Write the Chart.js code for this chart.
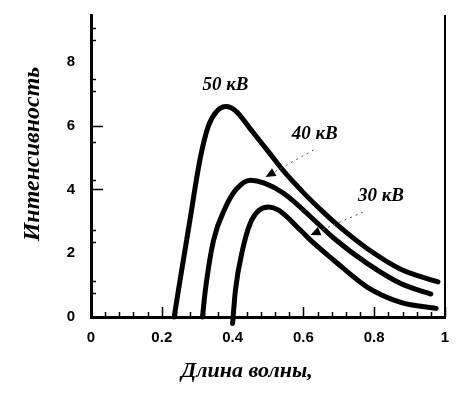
<!DOCTYPE html>
<html>
<head>
  <meta charset="UTF-8">
  <title>Интенсивность</title>
  <script src="https://cdn.jsdelivr.net/npm/chart.js"></script>
  <style>
    html, body { margin: 0; padding: 0; background: #fff; }
    #wrap { width: 459px; height: 393px; }
  </style>
</head>
<body>
  <div id="wrap"><canvas id="chart" width="459" height="393"></canvas></div>

  <script>
    // curves: wavelength -> intensity
    const wave50 = [0.235, 0.247, 0.278, 0.309, 0.332, 0.355, 0.382, 0.41, 0.45, 0.50, 0.55, 0.60, 0.65, 0.70, 0.78, 0.875, 0.98];
    const int50  = [0,     0.84,  2.94,  5.0,   6.0,   6.45,  6.6,   6.45,  5.9,  5.2,  4.5,  3.9,  3.35, 2.85, 2.15, 1.5,   1.1];

    const wave40 = [0.315, 0.323, 0.346, 0.38, 0.41, 0.45, 0.49, 0.544, 0.64, 0.686, 0.78, 0.875, 0.96];
    const int40  = [0,     0.84,  2.4,   3.44, 4.0,  4.29, 4.2,  3.88,  2.94, 2.47,  1.68, 1.05,  0.72];

    const wave30 = [0.40, 0.408, 0.428, 0.45, 0.475, 0.502, 0.53, 0.592, 0.62, 0.686, 0.78, 0.875, 0.975];
    const int30  = [-0.2, 0.84,  2.1,   2.94, 3.35,  3.45,  3.35, 2.72,  2.41, 1.78,  0.94, 0.46,  0.27];

    const yLabels = [0, 2, 4, 6, 8];
    const yLongTicks = [4, 6];
    const yShortTicks = [0.75, 1.12, 2.35, 2.72, 4.29, 5.5, 7.1, 7.46, 8.68, 9.06];

    // labels with their dotted pointers (data coords)
    const notes = [
      { text: '50 кВ', x: 0.38, y: 7.27 },
      { text: '40 кВ', x: 0.632, y: 5.74, from: [0.629, 5.24], to: [0.493, 4.39] },
      { text: '30 кВ', x: 0.819, y: 3.79, from: [0.768, 3.29], to: [0.62, 2.57] }
    ];

    const pts = (xs, ys) => xs.map((x, i) => ({ x: x, y: ys[i] }));
    const curve = (label, xs, ys) => ({
      label: label,
      data: pts(xs, ys),
      borderColor: '#000',
      borderWidth: 5,
      borderCapStyle: 'round',
      pointRadius: 0,
      cubicInterpolationMode: 'monotone',
      fill: false,
      clip: false
    });

    const tickFont = { family: 'Liberation Sans', size: 15, weight: 'bold' };
    const titleFont = 'italic bold 22px "Liberation Serif"';
    const noPad = s => { s.paddingLeft = 0; s.paddingRight = 0; s.paddingTop = 0; s.paddingBottom = 0; };

    const decor = {
      id: 'decor',
      afterDraw(chart) {
        const c = chart.ctx, a = chart.chartArea;
        const xs = chart.scales.x, ys = chart.scales.y;
        c.save();
        c.strokeStyle = '#000';
        // right frame line
        c.lineWidth = 2;
        c.beginPath(); c.moveTo(a.right, a.top); c.lineTo(a.right, a.bottom); c.stroke();
        // inward ticks on x
        c.lineWidth = 1.5;
        for (let i = 1; i <= 25; i++) {
          const px = Math.round(xs.getPixelForValue(i * 0.04)) + 0.5;
          const len = i % 5 === 0 ? 10 : 5;
          c.beginPath(); c.moveTo(px, a.bottom); c.lineTo(px, a.bottom - len); c.stroke();
        }
        // inward ticks on y
        yShortTicks.concat(yLongTicks).forEach(v => {
          const py = Math.round(ys.getPixelForValue(v)) + 0.5;
          const len = yLongTicks.includes(v) ? 12 : 5;
          c.beginPath(); c.moveTo(a.left, py); c.lineTo(a.left + len, py); c.stroke();
        });
        // axis titles
        c.fillStyle = '#000';
        c.font = titleFont;
        c.textAlign = 'center';
        c.textBaseline = 'middle';
        c.fillText('Длина волны,', 247, 371);
        c.save();
        c.translate(33, 154);
        c.rotate(-Math.PI / 2);
        c.font = 'italic bold 24px "Liberation Serif"';
        c.fillText('Интенсивность', 0, 0);
        c.restore();
        // curve labels and pointers
        c.font = 'italic bold 19px "Liberation Serif"';
        notes.forEach(n => {
          c.fillText(n.text, xs.getPixelForValue(n.x), ys.getPixelForValue(n.y));
          if (!n.from) return;
          const x1 = xs.getPixelForValue(n.from[0]), y1 = ys.getPixelForValue(n.from[1]);
          const x2 = xs.getPixelForValue(n.to[0]), y2 = ys.getPixelForValue(n.to[1]);
          const ang = Math.atan2(y2 - y1, x2 - x1);
          c.save();
          c.strokeStyle = '#555';
          c.lineWidth = 1;
          c.setLineDash([2, 4]);
          c.beginPath(); c.moveTo(x1, y1); c.lineTo(x2 - 8 * Math.cos(ang), y2 - 8 * Math.sin(ang)); c.stroke();
          c.restore();
          c.beginPath();
          c.moveTo(x2, y2);
          c.lineTo(x2 - 10 * Math.cos(ang) + 4.5 * Math.sin(ang), y2 - 10 * Math.sin(ang) - 4.5 * Math.cos(ang));
          c.lineTo(x2 - 10 * Math.cos(ang) - 4.5 * Math.sin(ang), y2 - 10 * Math.sin(ang) + 4.5 * Math.cos(ang));
          c.closePath();
          c.fill();
        });
        c.restore();
      }
    };

    new Chart(document.getElementById('chart'), {
      type: 'line',
      data: {
        datasets: [
          curve('50 кВ', wave50, int50),
          curve('40 кВ', wave40, int40),
          curve('30 кВ', wave30, int30)
        ]
      },
      options: {
        responsive: false,
        animation: false,
        layout: { padding: { top: 15, right: 14, left: 0, bottom: 0 } },
        plugins: { legend: { display: false }, tooltip: { enabled: false } },
        scales: {
          x: {
            type: 'linear',
            min: 0,
            max: 1,
            afterFit: s => { s.height = 76; noPad(s); },
            border: { color: '#000', width: 3 },
            grid: { drawOnChartArea: false, drawTicks: false },
            ticks: {
              stepSize: 0.2, color: '#000', font: tickFont, padding: 12, maxRotation: 0,
              callback: v => String(Math.round(v * 10) / 10)
            }
          },
          y: {
            type: 'linear',
            min: 0,
            max: 9.47,
            afterFit: s => { s.width = 91; noPad(s); },
            afterBuildTicks: s => { s.ticks = yLabels.map(v => ({ value: v })); },
            border: { color: '#000', width: 3 },
            grid: { drawOnChartArea: false, drawTicks: false },
            ticks: { color: '#000', font: tickFont, padding: 16 }
          }
        }
      },
      plugins: [decor]
    });
  </script>
</body>
</html>
